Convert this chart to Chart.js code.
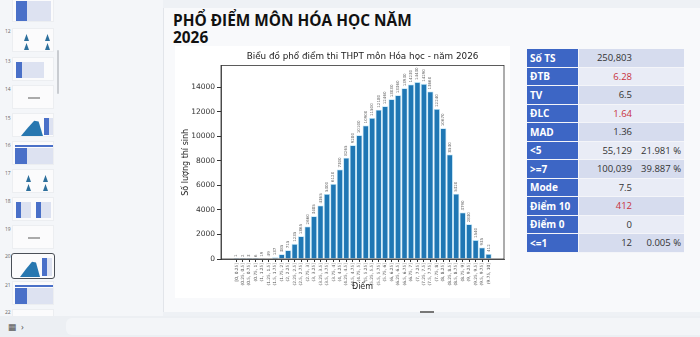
<!DOCTYPE html>
<html lang="vi">
<head>
<meta charset="utf-8">
<script src="https://cdn.jsdelivr.net/npm/chart.js@4.4.1/dist/chart.umd.min.js"></script>
<style>
  html, body { margin: 0; padding: 0; }
  body { width: 700px; height: 337px; position: relative; overflow: hidden; background: #eef1f5; font-family: "Open Sans", sans-serif; }
  .sidebar { position: absolute; left: 0; top: 0; width: 163px; height: 316px; background: #f4f6f9; }
  .thumb-num { position: absolute; left: 5px; font-size: 5px; color: #666; }
  .thumb { position: absolute; left: 12px; width: 42px; height: 24px; background: #fbfbfc; border: 1px solid #eceef1; box-sizing: border-box; overflow: hidden; }
  .thumb.sel { border: 1.5px solid #4a4f57; border-radius: 3px; left: 11px; width: 44px; height: 26px; }
  .thumb .blk { position: absolute; background: #4a70c8; }
  .thumb .lt { position: absolute; background: #dde2f1; }
  .thumb .tri { position: absolute; width: 5px; height: 7px; background: #2d6f9c; clip-path: polygon(50% 0, 100% 100%, 0 100%); }
  .thumb .hill { position: absolute; background: #2777b0; clip-path: polygon(0 100%, 30% 50%, 60% 5%, 80% 10%, 100% 100%); }
  .scroll { position: absolute; left: 57px; top: 50px; width: 2px; height: 44px; background: #c9ccd1; border-radius: 1px; }
  .slide { position: absolute; left: 163px; top: 8px; width: 537px; height: 304px; background: #f8f9fb; border-left: 1px solid #e2e5ea; }
  .title { position: absolute; left: 173px; top: 12px; font-weight: 700; font-size: 15.4px; line-height: 17px; color: #111; }
  .chartbox { position: absolute; left: 175px; top: 46px; width: 335px; height: 252px; background: #fff; }
  .stats { position: absolute; left: 527px; top: 49px; display: grid; grid-template-columns: 52px 56px 49px; grid-auto-rows: 18.5px; font-size: 9.5px; }
  .stats div { display: flex; align-items: center; box-sizing: border-box; border-bottom: 0.5px solid #f4f5f9; }
  .stats .k { background: #3d66c5; color: #fff; font-weight: 700; font-size: 10px; padding-left: 3px; border-right: 1px solid #f4f5f9; }
  .stats .v { justify-content: flex-end; padding-right: 3px; color: #333; }
  .stats .r1 { background: #d6dcee; }
  .stats .r2 { background: #e9ecf6; }
  .stats .red { color: #c8323c; }
  .bottom { position: absolute; left: 0; top: 316px; width: 700px; height: 21px; background: #eceff3; }
  .bottom .strip { position: absolute; left: 66px; top: 2px; width: 640px; height: 17px; background: #f3f5f8; border-radius: 6px; }
  .bottom .ico { position: absolute; top: 4px; font-size: 9px; color: #555; }
  .handle { position: absolute; left: 420px; top: 311px; width: 14px; height: 1.5px; background: #777; }
</style>
</head>
<body>
<div class="sidebar">
  <div class="thumb" style="top:-2px"><div class="blk" style="left:3px;top:2px;width:11px;height:20px"></div><div class="lt" style="left:14px;top:2px;width:24px;height:20px"></div></div>
  <div class="thumb-num" style="top:28px">12</div>
  <div class="thumb" style="top:28px"><div class="tri" style="left:11px;top:5px"></div><div class="tri" style="left:32px;top:5px"></div><div class="tri" style="left:11px;top:14px"></div><div class="tri" style="left:32px;top:14px"></div></div>
  <div class="thumb-num" style="top:58px">13</div>
  <div class="thumb" style="top:57px"><div class="blk" style="left:3px;top:4px;width:6px;height:16px"></div><div class="lt" style="left:9px;top:4px;width:22px;height:16px"></div></div>
  <div class="thumb-num" style="top:86px">14</div>
  <div class="thumb" style="top:85px"><div class="lt" style="left:15px;top:11px;width:12px;height:1.5px;background:#aaa"></div></div>
  <div class="thumb-num" style="top:115px">15</div>
  <div class="thumb" style="top:113px"><div class="hill" style="left:8px;top:6px;width:22px;height:16px"></div><div class="blk" style="left:31px;top:4px;width:5px;height:17px"></div><div class="lt" style="left:36px;top:4px;width:5px;height:17px"></div></div>
  <div class="thumb-num" style="top:142px">16</div>
  <div class="thumb" style="top:141px"><div class="blk" style="left:2px;top:3px;width:38px;height:2px"></div><div class="blk" style="left:2px;top:6px;width:12px;height:16px"></div><div class="lt" style="left:14px;top:6px;width:26px;height:16px"></div></div>
  <div class="thumb-num" style="top:170px">17</div>
  <div class="thumb" style="top:169px"><div class="tri" style="left:13px;top:5px"></div><div class="tri" style="left:30px;top:5px"></div><div class="tri" style="left:13px;top:14px"></div><div class="tri" style="left:30px;top:14px"></div></div>
  <div class="thumb-num" style="top:198px">18</div>
  <div class="thumb" style="top:197px"><div class="blk" style="left:3px;top:4px;width:5px;height:16px"></div><div class="lt" style="left:8px;top:4px;width:10px;height:16px"></div><div class="blk" style="left:23px;top:4px;width:5px;height:16px"></div><div class="lt" style="left:28px;top:4px;width:10px;height:16px"></div></div>
  <div class="thumb-num" style="top:226px">19</div>
  <div class="thumb" style="top:225px"><div class="lt" style="left:15px;top:11px;width:12px;height:1.5px;background:#aaa"></div></div>
  <div class="thumb-num" style="top:253px">20</div>
  <div class="thumb sel" style="top:253px"><div class="hill" style="left:8px;top:7px;width:20px;height:16px"></div><div class="blk" style="left:30px;top:4px;width:5px;height:18px"></div><div class="lt" style="left:35px;top:4px;width:5px;height:18px"></div></div>
  <div class="thumb-num" style="top:282px">21</div>
  <div class="thumb" style="top:281px"><div class="blk" style="left:2px;top:3px;width:38px;height:2px"></div><div class="blk" style="left:2px;top:6px;width:12px;height:16px"></div><div class="lt" style="left:14px;top:6px;width:26px;height:16px"></div></div>
  <div class="thumb-num" style="top:309px">22</div>
  <div class="thumb" style="top:309px"></div>
  <div class="scroll"></div>
</div>

<div class="slide"></div>
<div class="title">PHỔ ĐIỂM MÔN HÓA HỌC NĂM<br>2026</div>

<div class="chartbox"><canvas id="scoreChart" width="335" height="252"></canvas></div>

<div class="stats" id="stats"></div>

<div class="handle"></div>
<div class="bottom"><div class="strip"></div><div class="ico" style="left:8px">▦</div><div class="ico" style="left:21px">›</div></div>

<script>
const binLabels = [
  '[0, 0.25]', '(0.25, 0.5]', '(0.5, 0.75]', '(0.75, 1]',
  '(1, 1.25]', '(1.25, 1.5]', '(1.5, 1.75]', '(1.75, 2]',
  '(2, 2.25]', '(2.25, 2.5]', '(2.5, 2.75]', '(2.75, 3]',
  '(3, 3.25]', '(3.25, 3.5]', '(3.5, 3.75]', '(3.75, 4]',
  '(4, 4.25]', '(4.25, 4.5]', '(4.5, 4.75]', '(4.75, 5]',
  '(5, 5.25]', '(5.25, 5.5]', '(5.5, 5.75]', '(5.75, 6]',
  '(6, 6.25]', '(6.25, 6.5]', '(6.5, 6.75]', '(6.75, 7]',
  '(7, 7.25]', '(7.25, 7.5]', '(7.5, 7.75]', '(7.75, 8]',
  '(8, 8.25]', '(8.25, 8.5]', '(8.5, 8.75]', '(8.75, 9]',
  '(9, 9.25]', '(9.25, 9.5]', '(9.5, 9.75]', '(9.75, 10]'
];

const binCounts = [
  1, 2, 3, 6, 19, 49, 137, 385, 715, 1235,
  1865, 2660, 3485, 4365, 5300, 6120, 7300, 8265, 9280, 10100,
  10900, 11500, 12180, 12460, 13030, 13360, 13930, 14230, 14430, 14290,
  13660, 12240, 10670, 8530, 5320, 3790, 2830, 1540, 935, 412
];

const yTicks = [0, 2000, 4000, 6000, 8000, 10000, 12000, 14000];

// bảng thống kê bên phải
const statKeys = ['Số TS', 'ĐTB', 'TV', 'ĐLC', 'MAD', '<5', '>=7', 'Mode', 'Điểm 10', 'Điểm 0', '<=1'];
const statValues = ['250,803', '6.28', '6.5', '1.64', '1.36', '55,129', '100,039', '7.5', '412', '0', '12'];
const statPercents = ['', '', '', '', '', '21.981 %', '39.887 %', '', '', '', '0.005 %'];
const statRed = ['ĐTB', 'ĐLC', 'Điểm 10'];

const statsEl = document.getElementById('stats');
statKeys.forEach((key, i) => {
  const rowCls = i % 2 === 0 ? 'r1' : 'r2';
  const k = document.createElement('div');
  k.className = 'k';
  k.textContent = key;
  const v = document.createElement('div');
  v.className = 'v ' + rowCls + (statRed.includes(key) ? ' red' : '');
  v.textContent = statValues[i];
  const p = document.createElement('div');
  p.className = 'v ' + rowCls;
  p.textContent = statPercents[i];
  statsEl.append(k, v, p);
});

// khung kiểu matplotlib quanh vùng vẽ
const framePlugin = {
  id: 'frame',
  afterDraw(chart) {
    const { ctx, chartArea: a } = chart;
    ctx.save();
    ctx.strokeStyle = '#333';
    ctx.lineWidth = 0.8;
    ctx.strokeRect(a.left, a.top, a.right - a.left, a.bottom - a.top);
    ctx.restore();
  },
};

// số liệu dọc phía trên mỗi cột
const barLabelsPlugin = {
  id: 'barLabels',
  afterDatasetsDraw(chart) {
    const { ctx } = chart;
    const meta = chart.getDatasetMeta(0);
    meta.data.forEach((bar, i) => {
      ctx.save();
      ctx.translate(bar.x, bar.y - 2);
      ctx.rotate(-Math.PI / 2);
      ctx.fillStyle = '#666';
      ctx.font = '4px "DejaVu Sans"';
      ctx.textAlign = 'left';
      ctx.textBaseline = 'middle';
      ctx.fillText(String(binCounts[i]), 0, 0);
      ctx.restore();
    });
  },
};

new Chart(document.getElementById('scoreChart'), {
  type: 'bar',
  data: {
    datasets: [{
      data: binCounts.map((v, i) => ({ x: i, y: v })),
      backgroundColor: '#1f77b4',
      borderColor: '#b5e0f4',
      borderWidth: 0.8,
      barPercentage: 1,
      categoryPercentage: 0.96,
    }],
  },
  options: {
    responsive: false,
    animation: false,
    layout: { padding: { left: 2, right: 6, top: 0, bottom: 6 } },
    plugins: {
      legend: { display: false },
      tooltip: { enabled: false },
      title: {
        display: true,
        fullSize: false,
        text: 'Biểu đồ phổ điểm thi THPT môn Hóa học - năm 2026',
        color: '#222',
        font: { family: 'DejaVu Sans', size: 8.8, weight: 'normal' },
        padding: { top: 5, bottom: 4 },
      },
    },
    scales: {
      x: {
        type: 'linear',
        min: -2.39,
        max: 41.39,
        offset: false,
        grid: { drawOnChartArea: false, offset: false, color: '#333', tickLength: 3 },
        border: { color: '#333', width: 0.8 },
        afterBuildTicks(scale) {
          scale.ticks = binLabels.map((_, i) => ({ value: i }));
        },
        ticks: {
          autoSkip: false,
          maxRotation: 90,
          minRotation: 90,
          padding: 1,
          color: '#555',
          font: { family: 'DejaVu Sans', size: 4.3 },
          callback: (v) => binLabels[v],
        },
        title: {
          display: true,
          text: 'Điểm',
          color: '#222',
          font: { family: 'DejaVu Sans', size: 8 },
          padding: { top: 2, bottom: 0 },
        },
        afterFit(scale) { scale.height = 33; },
      },
      y: {
        min: 0,
        max: 15780,
        grid: { drawOnChartArea: false, color: '#333', tickLength: 4 },
        border: { color: '#333', width: 0.8 },
        afterBuildTicks(scale) {
          scale.ticks = yTicks.map((v) => ({ value: v }));
        },
        ticks: {
          autoSkip: false,
          padding: 2,
          color: '#333',
          font: { family: 'DejaVu Sans', size: 7.5 },
          callback: (v) => String(v),
        },
        title: {
          display: true,
          text: 'Số lượng thí sinh',
          color: '#222',
          font: { family: 'DejaVu Sans', size: 8 },
          padding: { top: 4, bottom: 2 },
        },
        afterFit(scale) { scale.width = 44; },
      },
    },
  },
  plugins: [framePlugin, barLabelsPlugin],
});
</script>
</body>
</html>
